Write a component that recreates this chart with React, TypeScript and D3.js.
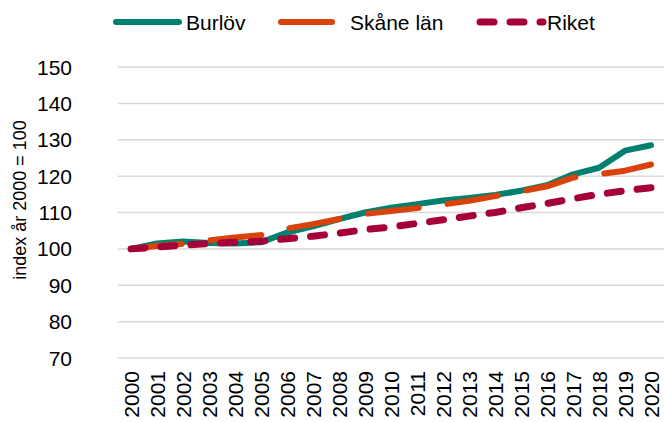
import React, {useEffect, useRef} from "react";
import * as d3 from 'd3';

const years = ["2000","2001","2002","2003","2004","2005","2006","2007","2008","2009","2010",
    "2011","2012","2013","2014","2015","2016","2017","2018","2019","2020"];
const burlov = [100, 101.5, 102, 101.6, 101.5, 101.8, 104.5, 106.2, 108.2, 110, 111.3,
    112.3, 113.3, 114, 114.8, 116, 117.5, 120.5, 122.3, 127, 128.5];
const skane = [100, 100.8, 101.4, 102.3, 103.1, 103.8, 105.6, 106.8, 108.2, 109.6, 110.4,
    111.2, 112.2, 113.2, 114.5, 115.8, 117.2, 119.6, 120.5, 121.5, 123.2];
const riket = [100, 100.5, 101, 101.5, 101.8, 102.1, 102.8, 103.5, 104.3, 105.3, 106,
    107, 108, 109, 110, 111.3, 112.5, 113.8, 115, 116, 116.8];
const yTicks = [70, 80, 90, 100, 110, 120, 130, 140, 150];

const series = [
    {name: "Burlöv", values: burlov, color: "#00806E", width: 6, dash: null as string | null},
    {name: "Skåne län", values: skane, color: "#D9420B", width: 6, dash: "51,29"},
    {name: "Riket", values: riket, color: "#A6003A", width: 7, dash: "14,16"},
];

const App: React.FC = () => {
    const ref = useRef<SVGSVGElement | null>(null);

    useEffect(() => {
        document.body.style.margin = "0";
        if (!ref.current) return;
        const svg = d3.select(ref.current);
        svg.selectAll('*').remove();

        const font = "Liberation Sans, Arial, sans-serif";
        const left = 118, right = 664, top = 67, bottom = 358;

        const x = d3.scaleBand().domain(years).range([left, right]);
        const xc = (d: string) => (x(d) as number) + x.bandwidth() / 2;
        const y = d3.scaleLinear().domain([70, 150]).range([bottom, top]);

        // gridlines
        svg.append("g").selectAll("line")
            .data(yTicks)
            .enter()
            .append("line")
            .attr("x1", left).attr("x2", right)
            .attr("y1", d => y(d)).attr("y2", d => y(d))
            .attr("stroke", "#D9D9D9")
            .attr("stroke-width", 1.5);

        // y tick labels
        svg.append("g").selectAll("text")
            .data(yTicks)
            .enter()
            .append("text")
            .attr("x", 72)
            .attr("y", d => y(d))
            .attr("dy", "0.36em")
            .attr("text-anchor", "end")
            .attr("font-family", font)
            .attr("font-size", 21)
            .attr("fill", "#000")
            .text(d => d);

        // y axis title
        svg.append("text")
            .attr("transform", "translate(26,200) rotate(-90)")
            .attr("text-anchor", "middle")
            .attr("font-family", font)
            .attr("font-size", 18)
            .text("index år 2000 = 100");

        // x tick labels
        svg.append("g").selectAll("text")
            .data(years)
            .enter()
            .append("text")
            .attr("transform", d => `translate(${xc(d)},371) rotate(-90)`)
            .attr("dy", "0.36em")
            .attr("text-anchor", "end")
            .attr("font-family", font)
            .attr("font-size", 21)
            .text(d => d);

        // lines
        const line = d3.line<number>()
            .x((_, i) => xc(years[i]))
            .y(d => y(d));

        series.forEach(s => {
            svg.append("path")
                .datum(s.values)
                .attr("d", line)
                .attr("fill", "none")
                .attr("stroke", s.color)
                .attr("stroke-width", s.width)
                .attr("stroke-linecap", "round")
                .attr("stroke-linejoin", "round")
                .attr("stroke-dasharray", s.dash);
        });

        // legend
        const legendPos = [
            {x1: 116, x2: 179, tx: 186},
            {x1: 281, x2: 332, tx: 350},
            {x1: 480, x2: 543, tx: 547},
        ];
        series.forEach((s, i) => {
            const p = legendPos[i];
            svg.append("line")
                .attr("x1", p.x1).attr("x2", p.x2)
                .attr("y1", 22).attr("y2", 22)
                .attr("stroke", s.color)
                .attr("stroke-width", s.width)
                .attr("stroke-linecap", "round")
                .attr("stroke-dasharray", s.dash);
            svg.append("text")
                .attr("x", p.tx).attr("y", 22)
                .attr("dy", "0.36em")
                .attr("font-family", font)
                .attr("font-size", 21)
                .text(s.name);
        });
    }, []);

    return (
        <svg ref={ref} width={665} height={422} style={{display: "block", background: "#fff"}}/>
    );
};

export default App;
